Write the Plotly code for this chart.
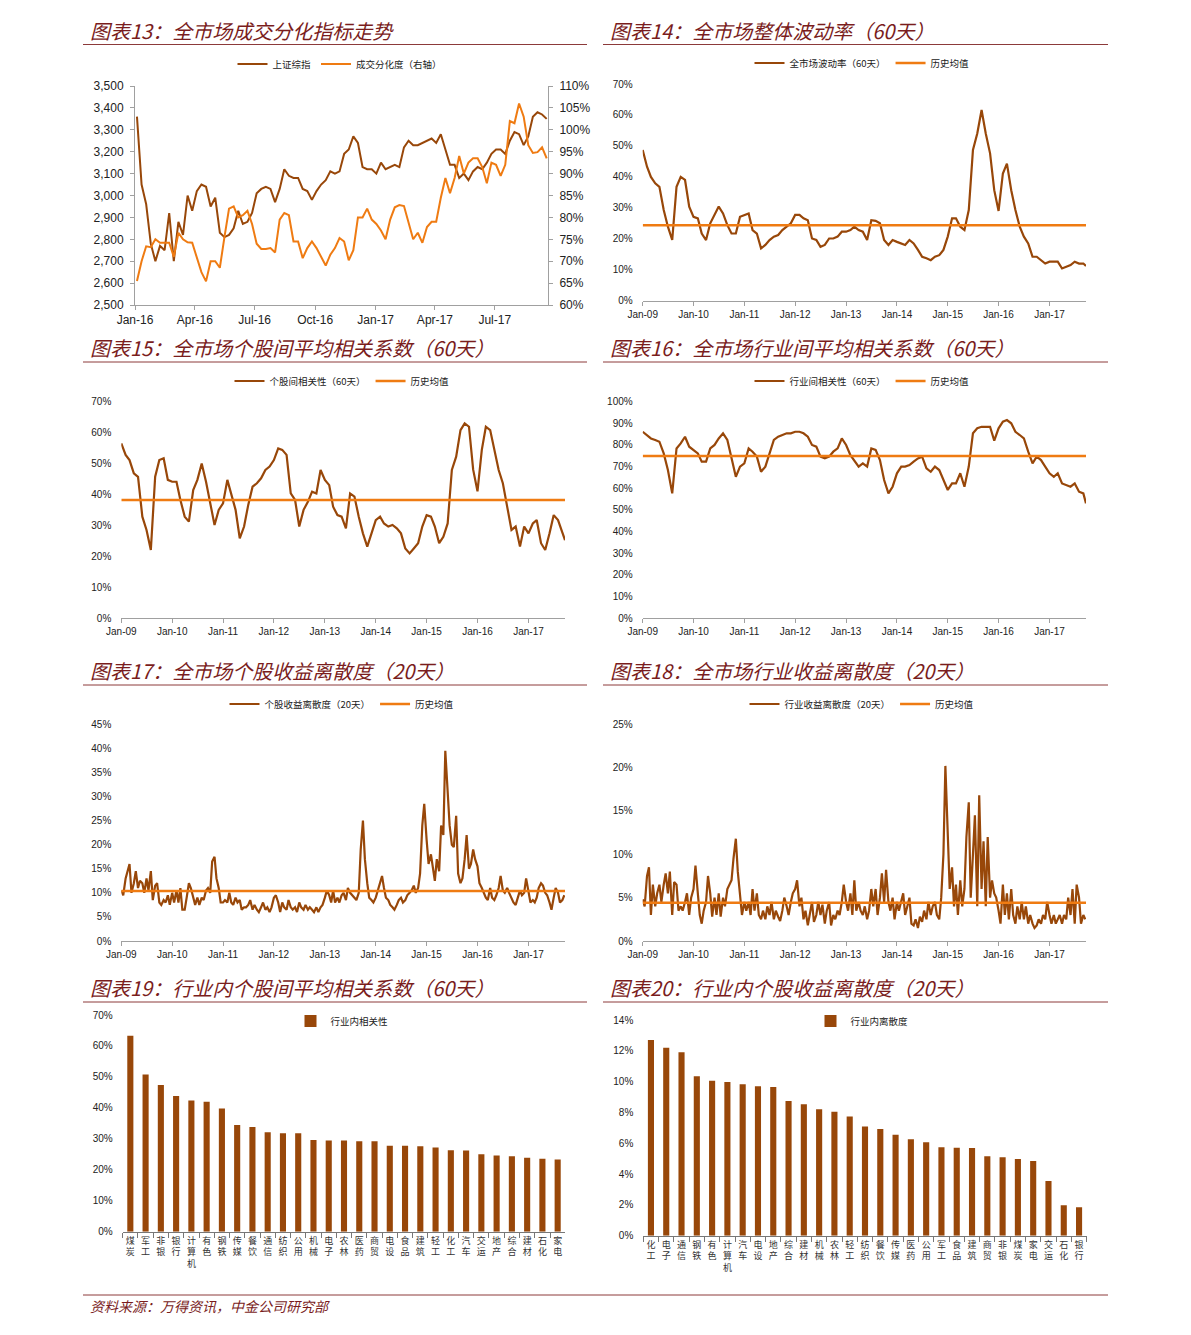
import plotly.graph_objects as go
import pandas as pd

# ---------------- DATA ----------------
# Chart 13 (weekly, from 2016-01-04)
sh_index = [3360, 3050, 2960, 2780, 2700, 2770, 2750, 2920, 2700, 2880,
            2820, 3000, 2930, 3020, 3050, 3040, 2950, 2990, 2830, 2810,
            2820, 2850, 2930, 2870, 2880, 2920, 3010, 3030, 3040, 3030,
            2970, 3030, 3120, 3090, 3080, 3080, 3030, 3020, 2980, 3020,
            3050, 3070, 3110, 3100, 3110, 3190, 3210, 3270, 3240, 3130,
            3120, 3120, 3100, 3150, 3120, 3130, 3140, 3130, 3220, 3250,
            3230, 3230, 3240, 3250, 3260, 3240, 3280, 3210, 3140, 3140,
            3080, 3100, 3070, 3110, 3130, 3120, 3150, 3190, 3210, 3210,
            3190, 3250, 3290, 3280, 3230, 3270, 3360, 3380, 3370, 3350]
turnover_div = [65.5, 70.0, 73.4, 73.2, 75.0, 74.2, 74.2, 74.2, 71.0, 76.5,
                75.0, 74.3, 74.2, 71.0, 67.5, 65.4, 70.0, 70.0, 68.5, 75.5,
                82.0, 82.5, 80.0, 80.5, 81.5, 78.5, 74.0, 72.8, 72.8, 73.0,
                72.0, 79.5, 81.0, 80.5, 74.5, 74.5, 70.7, 73.0, 74.5, 73.0,
                71.0, 69.0, 71.5, 73.0, 75.3, 74.5, 70.2, 72.5, 80.0, 80.0,
                82.0, 79.5, 78.5, 77.0, 75.0, 79.5, 82.3, 82.8, 82.6, 79.0,
                75.0, 76.5, 74.2, 77.8, 79.0, 79.0, 84.5, 89.0, 85.5, 89.0,
                94.0, 90.0, 92.5, 93.5, 93.5, 91.5, 87.8, 92.5, 92.0, 89.5,
                92.0, 102.0, 101.5, 106.0, 103.0, 96.5, 94.7, 94.9, 96.0, 93.5]

# Chart 14 (monthly 2009-01 .. 2017-09)
vol_60d = [48.7, 43.3, 40, 37.9, 36.8, 29.3, 23.9, 19.6, 36.8, 40, 39, 30.4,
           27.1, 26.6, 21.7, 19.6, 25, 27.7, 30.4, 28.2, 24.4, 21.7, 21.7, 27.1,
           27.7, 28.2, 22.8, 21.7, 16.9, 18, 19.6, 20.7, 21.2, 22.8, 23.9, 25,
           27.7, 27.7, 26.6, 26, 20.1, 19.6, 17.4, 18, 20.1, 20.1, 20.7, 22.3,
           22.3, 22.8, 23.9, 22.8, 22.3, 19.6, 26, 25.8, 25, 19.6, 18, 19.6,
           19, 18.5, 18, 19.6, 18.5, 16.4, 14.2, 13.7, 13.1, 14.2, 14.7, 16.4,
           20.7, 26.6, 26.6, 23.9, 22.8, 29.3, 48.7, 54, 61.6, 54, 47.6, 35.7,
           29, 41.1, 44.3, 35.7, 29.3, 23.9, 20.7, 18.5, 14.2, 14.2, 13.1, 12,
           12.6, 12.6, 12.6, 10.4, 11, 11.5, 12.6, 12, 12, 11.2]
vol_avg = 24.4

# Chart 15
stock_corr = [56.5, 52.8, 51.1, 46.8, 45.7, 32.8, 28.5, 22, 45.7, 51.1, 51.7, 44.7,
              44.1, 44.1, 38.2, 32.8, 31.2, 41.4, 44.7, 50, 44.1, 37.1, 30.1, 35,
              37.1, 44.7, 39.8, 35, 25.8, 29.6, 36.6, 42.5, 43.6, 45.2, 47.9, 49,
              51.1, 54.9, 54.4, 52.8, 40.3, 38.2, 29.6, 35, 37.6, 40.9, 40.3, 47.9,
              44.7, 43, 36, 33.3, 32.8, 29, 40.3, 39.3, 32.8, 27.4, 23.1, 27.4,
              31.7, 32.8, 30.6, 29.6, 30.1, 29, 27.4, 22.5, 20.9, 22.5, 24.2, 29.6,
              33.3, 32.8, 29.6, 24.2, 26.3, 30.6, 47.9, 52.2, 60.8, 63, 61.9, 48,
              41, 54.4, 61.9, 60.8, 54.4, 47.9, 43.6, 36, 28.5, 29.6, 23.1, 29.6,
              27.4, 30.6, 31.7, 24.2, 22, 27.4, 33.3, 31.7, 27.4, 25.2]
stock_corr_avg = 38.2

# Chart 16
ind_corr = [86.1, 84.6, 83, 82.3, 81.5, 76.1, 68.4, 57.6, 78.4, 80.7, 83.8, 79.2,
            77.7, 76.1, 72.3, 72.3, 78.4, 80, 83, 85.4, 82.3, 74.6, 65.3, 70,
            71.5, 78.4, 76.9, 74.6, 67.6, 70, 76.1, 82.3, 83.8, 84.6, 85.4, 85.4,
            86.1, 86.1, 85.4, 83.8, 80, 79.2, 74.6, 73.8, 74.6, 76.9, 78.4, 83,
            80, 75.3, 73, 70, 71.5, 70, 78.4, 77.7, 73, 63.8, 57.6, 60.7,
            66.9, 70, 70, 70.7, 72.3, 73.8, 74.6, 69.2, 67.6, 70, 68.4, 63.8,
            59.2, 62.2, 62.2, 66.9, 60.7, 70, 85.4, 87.7, 88.4, 88.4, 88.4, 82,
            87.7, 90.8, 91.5, 90, 86.1, 84.6, 83, 76.9, 71.5, 74.6, 73, 70,
            66.9, 65.3, 66.9, 62.2, 61.4, 60.7, 62.2, 58.4, 57.6, 53]
ind_corr_avg = 74.9

# Chart 17 (semi-monthly)
stock_disp = [10.5, 9.5, 13, 14.5, 16, 10, 12, 14.5, 11, 12.5, 12, 10, 13, 10.5, 14.5, 8.5, 11.5, 12, 8, 7.5, 8.5, 8, 9.5, 7.5,
              10, 8, 10.5, 8, 11, 6.5, 6.5, 9, 12, 11, 9, 7.5, 9, 7.5, 9, 8.5, 10.5, 11, 10, 16.5, 17.5, 13, 11, 8,
              8, 8.5, 8, 10, 8, 7.5, 9, 8, 8.5, 6.5, 7, 7, 7.5, 8.5, 6.5, 7.5, 6.5, 6, 7, 8, 6.5, 7, 6, 7,
              9, 9.5, 8, 6, 8, 7, 6.5, 8.5, 7, 6.5, 7, 6, 8, 7, 6.5, 7.5, 6.5, 7, 6.5, 6, 7, 6, 7, 7.5,
              9, 10.5, 9.5, 8, 10.5, 8, 9, 8, 9.5, 10, 8.5, 11, 10, 9.5, 9, 8.5, 10, 19, 25, 17, 12, 9, 8.5, 8,
              9, 10.5, 12, 13.5, 11, 9, 8.5, 7.5, 7, 6.5, 7.5, 8.5, 9, 8, 8.5, 9.5, 10, 10.5, 11.5, 10, 11, 14, 24, 28.5,
              21, 16, 18, 15, 12.5, 17, 14.5, 24, 22, 39.5, 30, 24, 20, 19.5, 26, 14, 12, 13, 17, 22, 15, 16, 19, 17,
              15.5, 12, 11, 10, 9, 8.5, 11, 9, 8.5, 9.5, 11, 13.5, 10.5, 10, 11, 10, 9, 8, 7.5, 9, 10.5, 9.5, 10, 13,
              10, 8, 8.5, 8, 9, 11, 12, 11.5, 10, 9.5, 8, 6.5, 9, 11, 10, 8, 8.5, 9.5]
stock_disp_avg = 10.4

# Chart 18 (semi-monthly)
ind_disp = [4.8, 4, 7.5, 8.5, 3, 6.5, 4, 5.5, 6.5, 4.5, 6.5, 7.8, 5.5, 8, 3, 6.8, 6.5, 3.5, 4, 3.5, 4.5, 5.5, 3, 5,
            6, 8.7, 5.5, 3, 2, 3.5, 4.5, 7.5, 5.5, 2.8, 5, 3, 5.5, 2.8, 5, 4, 6, 6.5, 7, 9.5, 11.8, 8, 5, 3,
            4.5, 3.5, 4.5, 3, 6, 3.5, 5.5, 3, 2.5, 3.5, 2.5, 4, 3, 4.5, 2.5, 3.5, 2.8, 2.3, 3.5, 5, 4, 3, 4.5, 5.5,
            6, 7, 4, 5, 2.5, 3.5, 1.8, 3, 4.5, 2.2, 3, 4.5, 3, 4.2, 2, 3.5, 4.5, 1.8, 3, 2.5, 3.5, 3, 4.5, 6.5,
            4.5, 3.5, 5.5, 3, 7, 3.5, 4.5, 3.5, 3, 4, 2.5, 3.5, 6, 4, 6, 3, 5, 7.8, 4.5, 8.2, 4.5, 3.5, 5, 2.5,
            4.5, 3.5, 4.5, 5.5, 3, 4, 5, 2, 1.8, 2.5, 1.5, 2.8, 2.2, 3.5, 2.5, 4.5, 3, 4, 4.5, 3, 2.5, 5, 10, 20.2,
            13.5, 6, 8.5, 4, 6.5, 3, 7, 4, 6, 12, 16, 5, 10, 14.5, 4, 16.8, 6, 11.5, 4, 12, 5, 7, 5.5, 5,
            3.5, 2, 6.5, 3, 5.5, 2.5, 6, 3, 2, 4, 2.5, 4.5, 2.5, 4, 2, 3, 2, 1.5, 1.8, 2.5, 2, 3, 2.5, 4.5,
            3, 2, 3, 2, 2.5, 3, 2, 3, 2.5, 5, 3, 6, 2, 6.5, 5, 2, 3, 2.5]
ind_disp_avg = 4.4

# Chart 19
corr_inds = ['煤炭', '军工', '非银', '银行', '计算机', '有色', '钢铁', '传媒', '餐饮', '通信',
             '纺织', '公用', '机械', '电子', '农林', '医药', '商贸', '电设', '食品', '建筑',
             '轻工', '化工', '汽车', '交运', '地产', '综合', '建材', '石化', '家电']
corr_vals = [63.3, 50.8, 47.4, 43.8, 42.4, 42.0, 39.8, 34.5, 33.8, 32.1,
             31.8, 31.8, 29.6, 29.5, 29.5, 29.2, 29.2, 27.8, 27.8, 27.6,
             27.2, 26.3, 26.2, 25.0, 24.6, 24.4, 23.9, 23.6, 23.3]

# Chart 20
disp_inds = ['化工', '电子', '通信', '钢铁', '有色', '计算机', '汽车', '电设', '地产', '综合',
             '建材', '机械', '农林', '轻工', '纺织', '餐饮', '传媒', '医药', '公用', '军工',
             '食品', '建筑', '商贸', '非银', '煤炭', '家电', '交运', '石化', '银行']
disp_vals = [12.7, 12.2, 11.9, 10.35, 10.06, 9.98, 9.83, 9.7, 9.65, 8.74,
             8.53, 8.2, 8.05, 7.73, 7.08, 6.93, 6.56, 6.26, 6.06, 5.74,
             5.71, 5.69, 5.15, 5.09, 4.98, 4.85, 3.55, 1.97, 1.84]

# date indices
weekly_dates = pd.date_range('2016-01-04', periods=len(sh_index), freq='7D')
monthly_dates = list(pd.date_range('2009-01-01', periods=len(vol_60d) - 1, freq='MS')) + [pd.Timestamp('2017-09-20')]
semi_dates = pd.date_range('2009-01-01', periods=len(stock_disp), freq='SMS')
TS_RANGE = ['2009-01-01', '2017-09-20']

# ---------------- STYLE ----------------
# page body has an 8px margin: figure is placed at (8, 8)
OFF = 8
W, H = 1191 - 2 * OFF, 1335 - 2 * OFF
def px(x): return (x - OFF) / W
def py(y): return 1 - (y - OFF) / H

BROWN = '#984709'
ORANGE = '#EF7B12'
TITLE_C = '#7A1D1D'
AXIS_C = '#a0a0a0'
LAT = 'Liberation Sans, Arial, sans-serif'
CJK = 'Noto Sans CJK SC, sans-serif'

fig = go.Figure()

# ---- traces ----
fig.add_trace(go.Scatter(x=weekly_dates, y=turnover_div, name='成交分化度（右轴）', mode='lines',
                         line=dict(color=ORANGE, width=2), xaxis='x', yaxis='y2', legend='legend',
                         legendrank=2))
fig.add_trace(go.Scatter(x=weekly_dates, y=sh_index, name='上证综指', mode='lines',
                         line=dict(color=BROWN, width=2), xaxis='x', yaxis='y', legend='legend',
                         legendrank=1))

ts_specs = [
    (monthly_dates, vol_60d, vol_avg, '全市场波动率（60天）', 'x2', 'y3', 'legend2'),
    (monthly_dates, stock_corr, stock_corr_avg, '个股间相关性（60天）', 'x3', 'y4', 'legend3'),
    (monthly_dates, ind_corr, ind_corr_avg, '行业间相关性（60天）', 'x4', 'y5', 'legend4'),
    (semi_dates, stock_disp, stock_disp_avg, '个股收益离散度（20天）', 'x5', 'y6', 'legend5'),
    (semi_dates, ind_disp, ind_disp_avg, '行业收益离散度（20天）', 'x6', 'y7', 'legend6'),
]
for dates, vals, avg, name, xa, ya_, lg in ts_specs:
    fig.add_trace(go.Scatter(x=dates, y=vals, name=name, mode='lines',
                             line=dict(color=BROWN, width=2.2), xaxis=xa, yaxis=ya_, legend=lg))
    fig.add_trace(go.Scatter(x=TS_RANGE, y=[avg, avg], name='历史均值', mode='lines',
                             line=dict(color=ORANGE, width=2.5), xaxis=xa, yaxis=ya_, legend=lg))

def vlabel(s):
    return '<br>'.join(list(s))

fig.add_trace(go.Bar(x=corr_inds, y=corr_vals, name='行业内相关性', marker=dict(color=BROWN, line=dict(width=0)),
                     xaxis='x7', yaxis='y8', legend='legend7'))
fig.add_trace(go.Bar(x=disp_inds, y=disp_vals, name='行业内离散度', marker=dict(color=BROWN, line=dict(width=0)),
                     xaxis='x8', yaxis='y9', legend='legend8'))

# ---- axes ----
def tsx(x0, x1, anchor, rng, dtick, tick0, size):
    return dict(domain=[px(x0), px(x1)], anchor=anchor, type='date', range=rng, dtick=dtick, tick0=tick0,
                tickformat='%b-%y', ticks='outside', ticklen=4, tickcolor=AXIS_C, showline=True,
                linecolor=AXIS_C, linewidth=1, showgrid=False, zeroline=False, automargin=False,
                tickfont=dict(family=LAT, size=size, color='#222'), fixedrange=True)

def ya(y_top, y_bot, anchor, rng, dtick, size=10, suffix='%', **kw):
    d = dict(domain=[py(y_bot), py(y_top)], anchor=anchor, range=rng, dtick=dtick, ticksuffix=suffix,
             showgrid=False, zeroline=False, automargin=False, showline=False, ticks='',
             ticklabelstandoff=9, tickfont=dict(family=LAT, size=size, color='#222'))
    d.update(kw)
    return d

LEFT = (121.3, 565)
RIGHT = (642.7, 1086)

layout_axes = dict(
    xaxis=tsx(135, 548, 'y', ['2016-01-01', '2017-09-20'], 'M3', '2016-01-01', 12),
    yaxis=ya(86, 305, 'x', [2500, 3500], 100, size=12, suffix='', tickformat=',d', showline=True,
             linecolor=AXIS_C, ticks='outside', ticklen=4, tickcolor=AXIS_C, ticklabelstandoff=4),
    yaxis2=dict(overlaying='y', side='right', anchor='x', range=[60, 110], dtick=5, ticksuffix='%',
                showgrid=False, zeroline=False, showline=True, linecolor=AXIS_C, ticks='outside',
                ticklen=4, tickcolor=AXIS_C, automargin=False, ticklabelstandoff=4,
                tickfont=dict(family=LAT, size=12, color='#222')),
    xaxis2=tsx(RIGHT[0], RIGHT[1], 'y3', TS_RANGE, 'M12', '2009-01-01', 10),
    yaxis3=ya(84, 300.7, 'x2', [0, 70], 10),
    xaxis3=tsx(LEFT[0], LEFT[1], 'y4', TS_RANGE, 'M12', '2009-01-01', 10),
    yaxis4=ya(401.7, 618, 'x3', [0, 70], 10),
    xaxis4=tsx(RIGHT[0], RIGHT[1], 'y5', TS_RANGE, 'M12', '2009-01-01', 10),
    yaxis5=ya(401.7, 618, 'x4', [0, 100], 10),
    xaxis5=tsx(LEFT[0], LEFT[1], 'y6', TS_RANGE, 'M12', '2009-01-01', 10),
    yaxis6=ya(724.3, 941, 'x5', [0, 45], 5),
    xaxis6=tsx(RIGHT[0], RIGHT[1], 'y7', TS_RANGE, 'M12', '2009-01-01', 10),
    yaxis7=ya(724.3, 941, 'x6', [0, 25], 5),
    xaxis7=dict(domain=[px(122.7), px(565.3)], anchor='y8', type='category', showline=True, linecolor='#777',
                ticks='outside', ticklen=5, tickcolor='#777', tickson='boundaries', showgrid=False,
                tickvals=corr_inds, ticktext=[vlabel(c) for c in corr_inds], tickangle=0, automargin=False,
                tickfont=dict(family=CJK, size=9, color='#333')),
    yaxis8=ya(1015, 1231.7, 'x7', [0, 70], 10),
    xaxis8=dict(domain=[px(643.3), px(1086.7)], anchor='y9', type='category', showline=True, linecolor='#777',
                ticks='outside', ticklen=5, tickcolor='#777', tickson='boundaries', showgrid=False,
                tickvals=disp_inds, ticktext=[vlabel(c) for c in disp_inds], tickangle=0, automargin=False,
                tickfont=dict(family=CJK, size=9, color='#333')),
    yaxis9=ya(1020, 1235.7, 'x8', [0, 14], 2),
)

def leg(xc, yc):
    return dict(orientation='h', x=px(xc), xanchor='center', y=py(yc), yanchor='middle',
                font=dict(family=CJK, size=9.5, color='#222'), bgcolor='rgba(0,0,0,0)',
                itemwidth=30, tracegroupgap=0, traceorder='normal')

# ---- titles / lines ----
titles = [
    ('图表13：全市场成交分化指标走势', 88, 30, 83, 587, 44.5),
    ('图表14：全市场整体波动率（60天）', 608, 30, 603, 1108, 44.5),
    ('图表15：全市场个股间平均相关系数（60天）', 88, 347, 83, 587, 362),
    ('图表16：全市场行业间平均相关系数（60天）', 608, 347, 603, 1108, 362),
    ('图表17：全市场个股收益离散度（20天）', 88, 670, 83, 587, 685),
    ('图表18：全市场行业收益离散度（20天）', 608, 670, 603, 1108, 685),
    ('图表19：行业内个股间平均相关系数（60天）', 88, 987, 83, 587, 1002),
    ('图表20：行业内个股收益离散度（20天）', 608, 987, 603, 1108, 1002),
]
annotations = []
shapes = []
for text, tx, ty, lx0, lx1, ly in titles:
    annotations.append(dict(text=text, x=px(tx), y=py(ty), xref='paper', yref='paper', xanchor='left',
                            yanchor='middle', showarrow=False,
                            font=dict(family=CJK, size=20, color=TITLE_C, style='italic')))
    shapes.append(dict(type='line', xref='paper', yref='paper', x0=px(lx0), x1=px(lx1), y0=py(ly), y1=py(ly),
                       line=dict(color='#8C3A3A', width=1)))

shapes.append(dict(type='line', xref='paper', yref='paper', x0=px(83), x1=px(1108), y0=py(1295), y1=py(1295),
                   line=dict(color='#8C3A3A', width=1)))
annotations.append(dict(text='资料来源：万得资讯，中金公司研究部', x=px(88), y=py(1306), xref='paper', yref='paper',
                        xanchor='left', yanchor='middle', showarrow=False,
                        font=dict(family=CJK, size=14, color=TITLE_C, style='italic')))

fig.update_layout(
    width=W, height=H, autosize=False,
    margin=dict(l=0, r=0, t=0, b=0),
    paper_bgcolor='white', plot_bgcolor='white',
    showlegend=True,
    bargap=0.6,
    legend=leg(340, 64), legend2=leg(862, 63), legend3=leg(342, 381), legend4=leg(862, 381),
    legend5=leg(342, 704), legend6=leg(862, 704), legend7=leg(342, 1021), legend8=leg(862, 1021),
    annotations=annotations, shapes=shapes,
    **layout_axes,
)

fig.write_html('out.html')
